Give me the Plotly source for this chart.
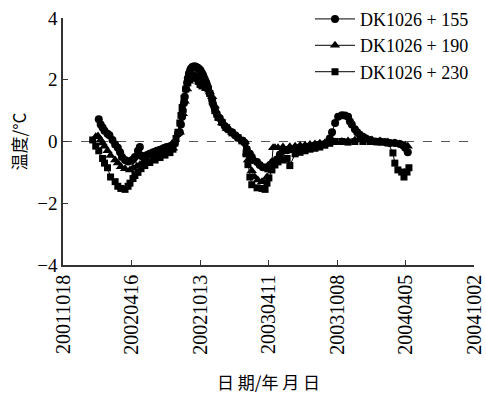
import plotly.graph_objects as go

# ---- data ----
c_dates = ["2002-01-20","2002-01-25","2002-01-30","2002-02-04","2002-02-12","2002-02-17","2002-02-25","2002-03-04",
           "2002-03-11","2002-03-17","2002-03-22","2002-03-30","2002-04-07","2002-04-15","2002-04-20","2002-04-25",
           "2002-05-03","2002-05-08","2002-05-11","2002-05-16","2002-05-21","2002-05-27","2002-06-03","2002-06-11",
           "2002-06-17","2002-06-22","2002-06-30","2002-07-08","2002-07-13","2002-07-18","2002-07-26","2002-08-03",
           "2002-08-08","2002-08-16","2002-08-21","2002-08-24","2002-08-27","2002-08-29","2002-09-01","2002-09-03",
           "2002-09-06","2002-09-09","2002-09-11","2002-09-14","2002-09-17","2002-09-19","2002-09-22","2002-09-24",
           "2002-09-27","2002-09-30","2002-10-02","2002-10-05","2002-10-08","2002-10-10","2002-10-13","2002-10-15",
           "2002-10-18","2002-10-21","2002-10-23","2002-10-26","2002-10-29","2002-10-31","2002-11-03","2002-11-08",
           "2002-11-14","2002-11-16","2002-11-21","2002-11-26","2002-12-04","2002-12-10","2002-12-17","2002-12-25",
           "2003-01-05","2003-01-13","2003-01-21","2003-01-31","2003-02-08","2003-02-13","2003-02-21","2003-02-26",
           "2003-03-01","2003-03-12","2003-03-19","2003-03-27","2003-04-07","2003-04-15","2003-04-23","2003-05-03",
           "2003-05-11","2003-05-19","2003-05-30","2003-06-06","2003-06-20","2003-07-03","2003-07-16","2003-07-29",
           "2003-08-11","2003-08-24","2003-09-06","2003-09-14","2003-09-19","2003-09-25","2003-10-03","2003-10-11",
           "2003-10-21","2003-10-29","2003-11-06","2003-11-11","2003-11-16","2003-11-24","2003-11-30","2003-12-07",
           "2003-12-15","2003-12-23","2004-01-03","2004-01-16","2004-01-29","2004-02-11","2004-02-24","2004-03-08",
           "2004-03-21","2004-03-29","2004-04-04","2004-04-11"]
c_vals = [0.72,0.55,0.45,0.35,0.25,0.2,0.05,-0.1,
          -0.2,-0.35,-0.5,-0.6,-0.65,-0.62,-0.58,-0.5,
          -0.3,-0.18,-0.45,-0.5,-0.47,-0.44,-0.4,-0.36,
          -0.33,-0.3,-0.27,-0.23,-0.2,-0.18,-0.15,-0.1,
          -0.05,0.25,0.3,0.55,0.8,1.0,1.25,1.45,
          1.7,1.9,2.05,2.2,2.3,2.36,2.4,2.42,
          2.43,2.43,2.42,2.4,2.38,2.35,2.32,2.28,
          2.22,2.15,2.08,2.0,1.92,1.85,1.75,1.55,
          1.35,1.22,1.05,0.9,0.75,0.62,0.5,0.4,
          0.3,0.2,0.12,0.03,-0.05,-0.25,-0.4,-0.5,
          -0.6,-0.66,-0.76,-0.83,-0.83,-0.76,-0.66,-0.58,
          -0.42,-0.3,-0.28,-0.25,-0.22,-0.2,-0.18,-0.15,
          -0.12,-0.1,-0.08,-0.02,0.1,0.3,0.6,0.8,
          0.85,0.84,0.8,0.65,0.55,0.4,0.3,0.22,
          0.15,0.1,0.05,0.0,0.0,-0.02,-0.05,-0.05,
          -0.08,-0.12,-0.2,-0.35]

t_dates = ["2002-01-12","2002-01-18","2002-01-25","2002-01-30","2002-02-04","2002-02-12","2002-02-20","2002-03-04",
           "2002-03-11","2002-03-19","2002-03-30","2002-04-12","2002-04-20","2002-04-30","2002-05-08","2002-05-16",
           "2002-05-27","2002-06-11","2002-06-22","2002-07-08","2002-07-18","2002-08-03","2002-08-21","2002-08-29",
           "2002-09-03","2002-09-09","2002-09-14","2002-09-19","2002-09-24","2002-09-30","2002-10-05","2002-10-10",
           "2002-10-15","2002-10-21","2002-10-26","2002-11-03","2002-11-08","2002-11-14","2002-11-21","2002-11-29",
           "2002-12-10","2002-12-22","2003-01-05","2003-01-21","2003-02-08","2003-02-13","2003-02-16","2003-02-26",
           "2003-03-06","2003-03-14","2003-03-25","2003-04-07","2003-04-12","2003-04-20","2003-04-23","2003-04-28",
           "2003-05-06","2003-05-19","2003-06-06","2003-06-20","2003-07-03","2003-07-16","2003-07-29","2003-08-11",
           "2003-08-24","2003-09-06","2003-09-19","2003-10-03","2003-10-21","2003-11-06","2003-11-24","2003-12-07",
           "2003-12-23","2004-01-08","2004-01-29","2004-02-19","2004-03-08","2004-03-21","2004-04-04","2004-04-11"]
t_vals = [0.15,0.18,0.05,-0.05,-0.15,-0.3,-0.45,-0.6,
          -0.7,-0.82,-0.88,-0.92,-0.86,-0.8,-0.75,-0.7,
          -0.62,-0.55,-0.48,-0.4,-0.33,-0.22,0.3,0.9,
          1.3,1.7,1.95,2.1,2.15,2.15,2.1,2.0,
          1.9,1.82,1.78,1.72,1.6,1.45,1.15,0.85,
          0.6,0.42,0.3,0.15,0.0,-0.37,-0.6,-0.95,
          -1.15,-1.25,-1.3,-1.15,-0.92,-0.66,-0.2,-0.2,
          -0.2,-0.18,-0.17,-0.15,-0.13,-0.12,-0.1,-0.08,
          -0.06,-0.05,-0.03,-0.02,0.0,0.02,0.05,0.08,
          0.1,0.05,0.02,-0.02,-0.05,-0.08,-0.12,-0.15]

s_dates = ["2002-01-04","2002-01-12","2002-01-20","2002-01-30","2002-02-04","2002-02-12","2002-02-20","2002-03-04",
           "2002-03-11","2002-03-19","2002-03-30","2002-04-07","2002-04-12","2002-04-20","2002-04-25","2002-05-03",
           "2002-05-11","2002-05-21","2002-06-03","2002-06-17","2002-06-30","2002-07-13","2002-07-26","2002-08-03",
           "2002-08-08","2002-08-11","2002-08-16","2002-08-21","2002-08-24","2002-08-27","2002-09-01","2002-09-06",
           "2002-09-11","2002-09-17","2002-09-22","2002-09-27","2002-10-02","2002-10-08","2002-10-13","2002-10-18",
           "2002-10-26","2002-11-03","2002-11-08","2002-11-14","2002-11-21","2002-11-29","2002-12-10","2002-12-22",
           "2003-01-05","2003-01-21","2003-01-31","2003-02-11","2003-02-16","2003-02-21","2003-02-26","2003-03-12",
           "2003-03-25","2003-04-02","2003-04-07","2003-04-12","2003-04-20","2003-04-28","2003-05-06","2003-05-19",
           "2003-05-30","2003-06-06","2003-06-20","2003-07-03","2003-07-16","2003-07-29","2003-08-11","2003-08-24",
           "2003-09-06","2003-09-19","2003-10-03","2003-10-21","2003-11-06","2003-11-24","2003-12-15","2004-01-03",
           "2004-01-29","2004-02-19","2004-03-03","2004-03-08","2004-03-16","2004-03-26","2004-04-01","2004-04-09",
           "2004-04-14"]
s_vals = [0.05,-0.15,-0.3,-0.55,-0.7,-0.85,-1.15,-1.3,
          -1.45,-1.52,-1.55,-1.45,-1.35,-1.2,-1.1,-1.0,
          -0.88,-0.78,-0.68,-0.6,-0.52,-0.44,-0.36,-0.25,
          -0.05,0.1,0.3,0.6,0.85,1.1,1.4,1.7,
          1.9,2.05,2.1,2.1,2.05,1.95,1.85,1.8,
          1.75,1.7,1.55,1.3,1.0,0.78,0.62,0.45,
          0.28,0.12,0.02,-0.4,-0.75,-1.15,-1.4,-1.5,
          -1.52,-1.55,-1.35,-1.18,-0.92,-0.76,-0.66,-0.6,
          -0.55,-0.78,-0.4,-0.35,-0.3,-0.25,-0.22,-0.18,
          -0.12,-0.06,0.0,0.0,-0.02,0.0,0.0,0.0,
          -0.02,-0.05,-0.37,-0.7,-0.92,-0.99,-1.15,-0.99,
          -0.85]

series_names = ["DK1026 + 155", "DK1026 + 190", "DK1026 + 230"]
tick_dates = ["2001-10-18","2002-04-16","2002-10-13","2003-04-11","2003-10-08","2004-04-05","2004-10-02"]
tick_labels = ["20011018","20020416","20021013","20030411","20031008","20040405","20041002"]
y_ticks = [-4, -2, 0, 2, 4]

FONT = "Liberation Serif"
CJK = "Noto Sans CJK SC"

fig = go.Figure()
for name, xs, ys, sym, sz in [
    (series_names[0], c_dates, c_vals, "circle", 8),
    (series_names[1], t_dates, t_vals, "triangle-up", 9),
    (series_names[2], s_dates, s_vals, "square", 7),
]:
    fig.add_trace(go.Scatter(
        x=xs, y=ys, name=name, mode="lines+markers",
        line=dict(color="black", width=1),
        marker=dict(symbol=sym, size=sz, color="black"),
    ))

fig.add_shape(type="line", xref="paper", x0=0, x1=1, yref="y", y0=0, y1=0,
              line=dict(color="#555555", width=1, dash="dash"), layer="below")

fig.update_layout(
    width=486, height=394,
    margin=dict(l=63, r=12, t=18, b=129, autoexpand=False),
    paper_bgcolor="white", plot_bgcolor="white",
    font=dict(family=FONT, size=19, color="black"),
    showlegend=True,
    legend=dict(x=1.0, xanchor="right", y=1.07, yanchor="top",
                bgcolor="rgba(0,0,0,0)", font=dict(size=18, family=FONT),
                itemwidth=40, tracegroupgap=0),
    xaxis=dict(
        type="date", range=[tick_dates[0], tick_dates[-1]], automargin=False,
        tickmode="array", tickvals=tick_dates, ticktext=tick_labels,
        tickangle=-90, ticks="inside", ticklen=5, tickcolor="#333",
        showline=True, linecolor="#333", linewidth=1.5, mirror=False,
        showgrid=False, zeroline=False,
        tickfont=dict(size=20, family=FONT),
        title=dict(text="日 期/年 月 日", font=dict(size=17, family=CJK), standoff=24),
    ),
    yaxis=dict(
        range=[-4, 4], tickmode="array", tickvals=y_ticks, automargin=False,
        ticks="inside", ticklen=5, tickcolor="#333",
        showline=True, linecolor="#333", linewidth=1.5, mirror=False,
        showgrid=False, zeroline=False,
        tickfont=dict(size=19, family=FONT),
        title=dict(text="温度/°C", font=dict(size=17, family=CJK), standoff=6),
    ),
)

fig.write_html("out.html", config={"displayModeBar": False},
               post_script="document.body.style.margin='0';")
